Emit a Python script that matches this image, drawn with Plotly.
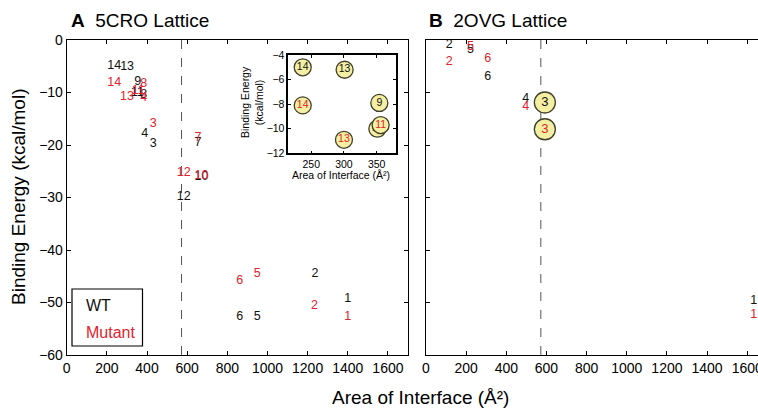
import plotly.graph_objects as go

W, H = 758, 409
FONT = "Liberation Sans, Arial, Helvetica, sans-serif"
BLACK = "#111111"
RED = "#e3222b"
CIRCLE_FILL = "#f4efa2"
CIRCLE_LINE = "#3f3f2a"

# ---------------- data ----------------
# Panel A: 5CRO lattice (interface id, area in A^2, binding energy kcal/mol)
a_wt_labels = ["1", "2", "3", "4", "5", "6", "7", "8", "9", "10", "11", "12", "13", "14"]
a_wt_area = [1400, 1237, 431, 389, 949, 862, 654, 384, 354, 671, 351, 583, 301, 237]
a_wt_energy = [-49.4, -44.5, -19.8, -17.9, -52.8, -52.8, -19.6, -10.5, -7.9, -26.0, -10.0, -29.8, -5.2, -5.0]

a_mut_labels = ["1", "2", "3", "4", "5", "6", "7", "8", "10", "11", "12", "13", "14"]
a_mut_area = [1400, 1234, 431, 384, 949, 862, 654, 384, 671, 356, 583, 300, 237]
a_mut_energy = [-52.7, -50.7, -16.0, -11.0, -44.5, -45.8, -18.7, -8.3, -25.9, -9.7, -25.3, -10.9, -8.1]

# Panel B: 2OVG lattice
b_wt_labels = ["1", "2", "3", "4", "5", "6"]
b_wt_area = [1632, 116, 592, 497, 222, 307]
b_wt_energy = [-49.7, -1.0, -11.9, -11.2, -1.8, -7.0]

b_mut_labels = ["1", "2", "3", "4", "5", "6"]
b_mut_area = [1632, 116, 592, 497, 222, 307]
b_mut_energy = [-52.3, -4.1, -17.0, -12.7, -1.3, -3.5]

b_circled = ["3"]          # interfaces highlighted with a circle in panel B
threshold_area = 572       # dashed vertical reference line

x_ticks = [0, 200, 400, 600, 800, 1000, 1200, 1400, 1600]
y_ticks = [-60, -50, -40, -30, -20, -10, 0]
inset_x_ticks = [250, 300, 350]
inset_y_ticks = [-12, -10, -8, -6, -4]
inset_x_range = [215, 379]
inset_y_range = [-12, -4]

# ---------------- layout geometry (screen pixels) ----------------
def px_x(p):
    return p / W

def px_y(p):
    return 1 - p / H

A_LEFT, A_RIGHT = 66.7, 408.0
B_LEFT = 426.0
TOP, BOTTOM = 40.0, 355.0
I_LEFT, I_RIGHT, I_TOP, I_BOTTOM = 288.3, 395.7, 55.0, 153.3

px_per_unit = (A_RIGHT - A_LEFT) / 1700.0
b_xmax = (W - B_LEFT) / px_per_unit

fig = go.Figure()

def text_trace(x, y, labels, color, xa, ya, size=12.5):
    return go.Scatter(x=x, y=y, text=labels, mode="text", xaxis=xa, yaxis=ya,
                      textfont=dict(family=FONT, size=size, color=color),
                      textposition="middle center", hoverinfo="skip", showlegend=False,
                      cliponaxis=False)

def circle_trace(x, y, labels, color, xa, ya, size, tsize):
    return go.Scatter(x=x, y=y, text=labels, mode="markers+text", xaxis=xa, yaxis=ya,
                      marker=dict(size=size, color=CIRCLE_FILL,
                                  line=dict(color=CIRCLE_LINE, width=1.3)),
                      textfont=dict(family=FONT, size=tsize, color=color),
                      textposition="middle center", hoverinfo="skip", showlegend=False,
                      cliponaxis=False)

# Panel A labels
fig.add_trace(text_trace(a_wt_area, a_wt_energy, a_wt_labels, BLACK, "x", "y"))
fig.add_trace(text_trace(a_mut_area, a_mut_energy, a_mut_labels, RED, "x", "y"))

# Panel B labels (plain and circled)
def split(labels, xs, ys, keep):
    sel = [i for i, l in enumerate(labels) if (l in b_circled) == keep]
    return [xs[i] for i in sel], [ys[i] for i in sel], [labels[i] for i in sel]

for labels, xs, ys, col in [(b_wt_labels, b_wt_area, b_wt_energy, BLACK),
                            (b_mut_labels, b_mut_area, b_mut_energy, RED)]:
    px_, py_, pl_ = split(labels, xs, ys, False)
    fig.add_trace(text_trace(px_, py_, pl_, col, "x2", "y2"))
for labels, xs, ys, col in [(b_wt_labels, b_wt_area, b_wt_energy, BLACK),
                            (b_mut_labels, b_mut_area, b_mut_energy, RED)]:
    px_, py_, pl_ = split(labels, xs, ys, True)
    fig.add_trace(circle_trace(px_, py_, pl_, col, "x2", "y2", 21, 13))

# Inset: zoom on the low-area cluster of panel A
def in_inset(xs, ys, labels):
    sel = [i for i in range(len(xs))
           if inset_x_range[0] <= xs[i] <= inset_x_range[1]
           and inset_y_range[0] <= ys[i] <= inset_y_range[1]]
    return [xs[i] for i in sel], [ys[i] for i in sel], [labels[i] for i in sel]

ix, iy, il = in_inset(a_wt_area, a_wt_energy, a_wt_labels)
fig.add_trace(circle_trace(ix, iy, il, BLACK, "x3", "y3", 17, 10.5))
ix, iy, il = in_inset(a_mut_area, a_mut_energy, a_mut_labels)
fig.add_trace(circle_trace(ix, iy, il, RED, "x3", "y3", 17, 10.5))

axis_common = dict(showline=True, linecolor="black", linewidth=1, ticks="inside",
                   ticklen=4, tickcolor="black", showgrid=False, zeroline=False,
                   tickfont=dict(family=FONT, size=14, color="black"), automargin=False,
                   ticklabeloverflow="allow")

fig.update_layout(
    width=W, height=H, margin=dict(l=0, r=0, t=0, b=0),
    paper_bgcolor="white", plot_bgcolor="white", showlegend=False,
    xaxis=dict(axis_common, domain=[px_x(A_LEFT), px_x(A_RIGHT)], range=[0, 1700],
               tickvals=x_ticks, mirror="ticks", anchor="y"),
    yaxis=dict(axis_common, domain=[px_y(BOTTOM), px_y(TOP)], range=[-60, 0],
               tickvals=y_ticks, mirror="ticks", anchor="x"),
    xaxis2=dict(axis_common, domain=[px_x(B_LEFT), 1.0], range=[0, b_xmax],
                tickvals=x_ticks, mirror="ticks", anchor="y2"),
    yaxis2=dict(axis_common, domain=[px_y(BOTTOM), px_y(TOP)], range=[-60, 0],
                tickvals=y_ticks, showticklabels=False, mirror=False, anchor="x2"),
    xaxis3=dict(axis_common, domain=[px_x(I_LEFT), px_x(I_RIGHT)], range=inset_x_range,
                tickvals=inset_x_ticks, mirror="ticks", anchor="y3", ticklen=3,
                linewidth=1.5, tickfont=dict(family=FONT, size=10.5, color="black")),
    yaxis3=dict(axis_common, domain=[px_y(I_BOTTOM), px_y(I_TOP)], range=inset_y_range,
                tickvals=inset_y_ticks, mirror="ticks", anchor="x3", ticklen=3,
                linewidth=1.5, tickfont=dict(family=FONT, size=10.5, color="black")),
)

# dashed threshold lines
for xr, yr in [("x", "y"), ("x2", "y2")]:
    fig.add_shape(type="line", xref=xr, yref=yr, x0=threshold_area, x1=threshold_area,
                  y0=y_ticks[0], y1=y_ticks[-1],
                  line=dict(color="#555555", width=1, dash="dash"), layer="below")

# legend box
fig.add_shape(type="rect", xref="paper", yref="paper",
              x0=px_x(72), x1=px_x(142.5), y0=px_y(346), y1=px_y(289),
              line=dict(color="black", width=1.2), fillcolor="white")

annotations = [
    dict(text="WT", x=px_x(84), y=px_y(305), xanchor="left", yanchor="middle",
         font=dict(family=FONT, size=16, color=BLACK)),
    dict(text="Mutant", x=px_x(84), y=px_y(332), xanchor="left", yanchor="middle",
         font=dict(family=FONT, size=16, color=RED)),
    dict(text="<b>A</b>\u00a0\u00a05CRO Lattice", x=px_x(69), y=px_y(20),
         xanchor="left", yanchor="middle", font=dict(family=FONT, size=19, color="black")),
    dict(text="<b>B</b>\u00a0\u00a02OVG Lattice", x=px_x(427), y=px_y(20),
         xanchor="left", yanchor="middle", font=dict(family=FONT, size=19, color="black")),
    dict(text="Area of Interface (Å²)", x=px_x(420), y=px_y(397), xanchor="center",
         yanchor="middle", font=dict(family=FONT, size=19, color="black")),
    dict(text="Binding Energy (kcal/mol)", x=px_x(18), y=px_y(197), xanchor="center",
         yanchor="middle", textangle=-90, font=dict(family=FONT, size=19, color="black")),
    dict(text="Area of Interface (Å²)", x=px_x(341), y=px_y(175), xanchor="center",
         yanchor="middle", font=dict(family=FONT, size=10.5, color="black")),
    dict(text="Binding Energy<br>(kcal/mol)", x=px_x(252), y=px_y(102), xanchor="center",
         yanchor="middle", textangle=-90, font=dict(family=FONT, size=10.5, color="black")),
]
for a in annotations:
    a.update(xref="paper", yref="paper", showarrow=False)
fig.update_layout(annotations=annotations)

# Drop the browser's default 8px body margin so the 758x409 figure fills the window,
# and hide the interactive mode bar.
fig.write_html("out.html", config={"displayModeBar": False},
               post_script="document.body.style.margin='0';")
